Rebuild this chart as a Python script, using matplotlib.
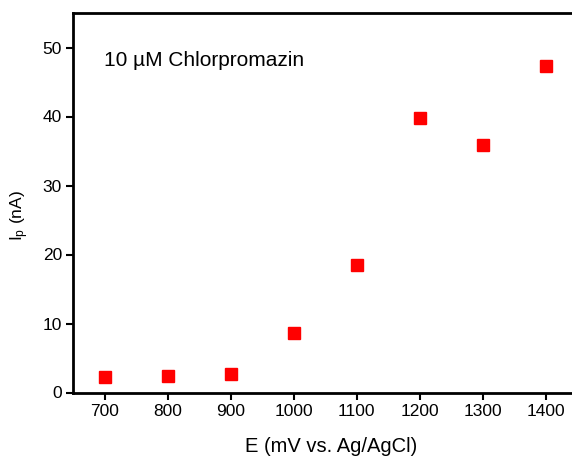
import matplotlib
matplotlib.use("Agg")
import matplotlib.pyplot as plt

potential = [700, 800, 900, 1000, 1100, 1200, 1300, 1400]
current = [2.25, 2.4, 2.7, 8.6, 18.5, 39.8, 35.8, 47.3]
xticks = [700, 800, 900, 1000, 1100, 1200, 1300, 1400]
yticks = [0, 10, 20, 30, 40, 50]

plt.rcParams['font.family'] = ['Liberation Sans', 'DejaVu Sans']
plt.rcParams['mathtext.fontset'] = 'custom'
plt.rcParams['mathtext.rm'] = 'Liberation Sans'
plt.rcParams['mathtext.it'] = 'Liberation Sans'

W, H = 572, 459
fig = plt.figure(figsize=(W / 100, H / 100), dpi=100)
ax = fig.add_axes([73 / W, (H - 392.5) / H, 1 - 73 / W, (392.5 - 13) / H])

ax.plot(potential, current, linestyle='none', marker='s', markersize=8,
        color='#ff0000', markeredgecolor='#ff0000')

ax.set_xlim(650, 1442)
ax.set_ylim(0, 55)
ax.set_xticks(xticks)
ax.set_yticks(yticks)
ax.tick_params(direction='out', length=5, width=1.5, labelsize=12.5, pad=3)
for s in ['left', 'bottom', 'top']:
    ax.spines[s].set_linewidth(2)
ax.spines['right'].set_visible(False)

fig.text(331 / W, (H - 452) / H, 'E (mV vs. Ag/AgCl)', fontsize=14.5,
         ha='center', va='baseline')
fig.text(20 / W, (H - 216) / H, r'$\mathregular{I_p}$ (nA)', fontsize=12.5,
         ha='center', va='center', rotation=90)
fig.text(104.5 / W, (H - 66) / H, '10 µM Chlorpromazin', fontsize=15,
         ha='left', va='baseline')

fig.savefig('out.png', dpi=100)
